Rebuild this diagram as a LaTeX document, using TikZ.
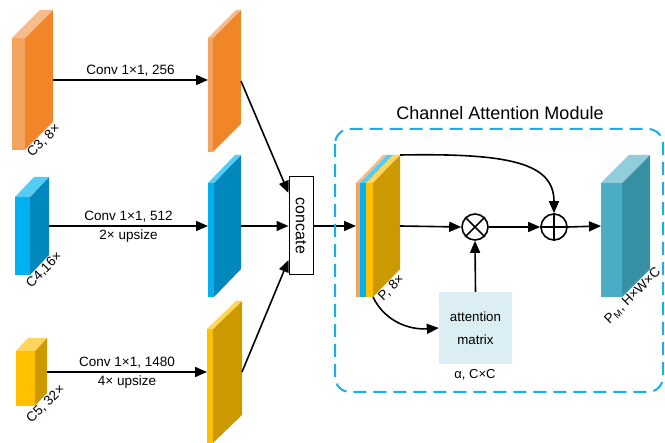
\documentclass[tikz,border=0pt]{standalone}
\usepackage{fontspec}
\setmainfont{Liberation Sans}
\usetikzlibrary{arrows.meta}
\definecolor{orF}{HTML}{F4A460}
\definecolor{orS}{HTML}{F08628}
\definecolor{orT}{HTML}{F8BC8C}
\definecolor{blF}{HTML}{00B0F0}
\definecolor{blS}{HTML}{0088BC}
\definecolor{blT}{HTML}{55CCF5}
\definecolor{yeF}{HTML}{FFC000}
\definecolor{yeS}{HTML}{CC9A00}
\definecolor{yeT}{HTML}{FFD55A}
\definecolor{tlF}{HTML}{4BACC6}
\definecolor{tlS}{HTML}{3890A5}
\definecolor{tlT}{HTML}{92CDDC}
\definecolor{dashc}{HTML}{1AAFE8}
\definecolor{attc}{HTML}{DAEEF3}
% name, x, ytop, front width, height, depth x, depth y, colour prefix
\newcommand\drawslab[8]{%
  \fill[#8F] (#2,#3) rectangle (#2+#4,#3+#5);
  \fill[#8S] (#2+#4,#3) -- (#2+#4+#6,#3-#7) -- (#2+#4+#6,#3+#5-#7) -- (#2+#4,#3+#5) -- cycle;
  \fill[#8T] (#2,#3) -- (#2+#6,#3-#7) -- (#2+#4+#6,#3-#7) -- (#2+#4,#3) -- cycle;
  \coordinate (#1-w) at (#2,#3+#5/2-#7/2);
  \coordinate (#1-e) at (#2+#4+#6,#3+#5/2-#7/2);
  \coordinate (#1-b) at (#2+#4+#6/2,#3+#5-#7/2);
  \coordinate (#1-tr) at (#2+#4+#6,#3-#7);
  \coordinate (#1-bc) at (#2+#4,#3+#5);
}
\tikzset{
  arr/.style={line width=1.6pt, -{Triangle[length=12pt,width=10pt]}},
  lab/.style={font=\fontsize{13.5}{15}\selectfont, anchor=north, rotate=45, inner sep=1pt},
  conv/.style={font=\fontsize{13.5}{15}\selectfont, inner sep=2pt},
  opnode/.style={circle, draw, line width=1.6pt, minimum size=26pt, inner sep=0pt, fill=white}
}
\begin{document}
\begin{tikzpicture}[x=1pt,y=-1pt]
\useasboundingbox (0,0) rectangle (665,443);
% left column
\drawslab{c3}{12}{38}{13}{112}{28}{28}{or}
\drawslab{c4}{15}{197}{15}{78}{19}{20}{bl}
\drawslab{c5}{16}{351}{19}{55}{12}{13}{ye}
% second column
\drawslab{o3}{208}{38}{5}{114}{28}{28}{or}
\drawslab{o4}{208}{183}{6}{114}{27}{28}{bl}
\drawslab{o5}{207}{329}{6}{114}{29}{28}{ye}
% P stacked
\drawslab{pa}{356}{183}{4}{114}{27}{28}{or}
\drawslab{pb}{360}{183}{6}{114}{27}{28}{bl}
\drawslab{pc}{366}{183}{7}{114}{27}{28}{ye}
% PM
\drawslab{pm}{601}{183}{21}{114}{28}{28}{tl}

% labels under slabs
\node[lab] (lc3) at (c3-b) {C3, 8×};
\node[lab] (lc4) at (c4-b) {C4,16×};
\node[lab] (lc5) at (c5-b) {C5, 32×};
\node[lab] (lp) at (pc-b) {P, 8×};
\node[lab] (lpm) at ([shift={(-8,8)}]pm-b) {P\textsubscript{M}, H×W×C};

% horizontal conv arrows
\draw[arr] (c3-e) -- node[conv, above=1pt] {Conv 1×1, 256} (c3-e -| o3-w);
\draw[arr] (c4-e) -- node[conv, above=1pt] {Conv 1×1, 512} node[conv, below=1pt] {2× upsize} (c4-e -| o4-w);
\draw[arr] (c5-e) -- node[conv, above=1pt] {Conv 1×1, 1480} node[conv, below=1pt] {4× upsize} (c5-e -| o5-w);

% concat
\node[draw, line width=1pt, minimum width=24pt, minimum height=98pt, inner sep=0pt,
      font=\fontsize{16}{16}\selectfont] (cc) at (301,226) {\rotatebox{-90}{concate}};
\draw[arr] (o3-e) -- ([yshift=33pt]cc.west);
\draw[arr] (o4-e) -- (cc.west);
\draw[arr] (o5-e) -- ([yshift=-34pt]cc.west);
\draw[arr] (cc.east) -- (pa-w);

% module frame and title
\draw[dashc, line width=2pt, dash pattern=on 13pt off 7pt, rounded corners=15pt] (335,129) rectangle (663,392);
\node[font=\fontsize{18}{20}\selectfont] (title) at (500,113) {Channel Attention Module};

% operators
\node[opnode] (mul) at (475,227) {};
\draw[line width=1.6pt] (mul.north west) -- (mul.south east) (mul.north east) -- (mul.south west);
\node[opnode] (plus) at (554,227) {};
\draw[line width=1.6pt] (plus.north) -- (plus.south) (plus.west) -- (plus.east);

% attention matrix
\node[fill=attc, minimum width=73pt, minimum height=72pt, inner sep=0pt, align=center,
      font=\fontsize{13.3}{23}\selectfont] (att) at (475.5,328) {attention\\matrix};
\node[conv, font=\fontsize{13}{15}\selectfont] (alpha) at (475,375) {α, C×C};

% connectors in module
\draw[arr] (pc-e) -- (mul.west);
\draw[arr] (mul.east) -- (plus.west);
\draw[arr] (plus.east) -- (pm-w);
\draw[arr] (att.north) -- (mul.south);
\draw[arr] (pc-tr) .. controls (510,153) and (554,163) .. (plus.north);
\draw[arr] (pc-bc) .. controls (385,322) and (410,330) .. (att.west);
\end{tikzpicture}
\end{document}
